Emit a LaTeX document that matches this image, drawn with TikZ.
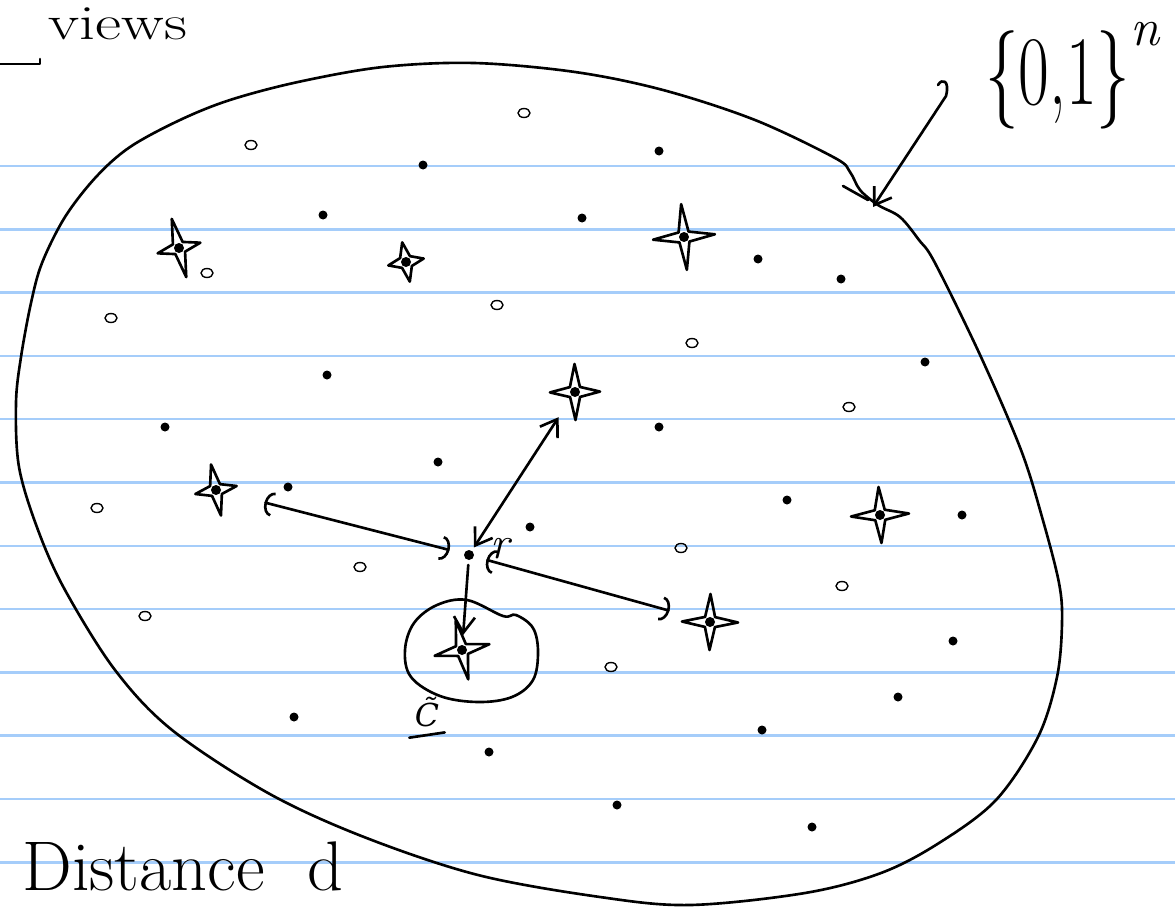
\documentclass[tikz,border=0pt]{standalone}
\usepackage{fontspec}
\usepackage{tikz}
\usetikzlibrary{arrows.meta}
\newfontfamily\markfont{DejaVu Serif}
\definecolor{paperblue}{RGB}{165,205,250}

\begin{document}
\begin{tikzpicture}[x=0.02cm,y=-0.02cm,line cap=round,line join=round,
    ruled/.style={paperblue,line width=1.4pt},
    pen/.style={line width=1.5pt},
    barb/.style={-{Straight Barb[length=9pt,width=12pt]}},
    bibarb/.style={{Straight Barb[length=9pt,width=12pt]}-{Straight Barb[length=9pt,width=12pt]}},
    hooks/.style={{Arc Barb[length=5pt,width=14pt]}-{Arc Barb[length=5pt,width=14pt]}},
    scribble/.style={inner sep=0pt}]
  \useasboundingbox (0,0) rectangle (1175,909);
  \clip (0,0) rectangle (1175,909);
  % ruled paper
  \foreach \y in {166,229.3,...,870}
    \draw[ruled] (0,\y) -- (1175,\y);

  % the whole space
  \draw[pen] plot[smooth cycle,tension=0.55] coordinates {
    (474,63) (383,67) (298,82) (230,100) (180,120) (130,147) (96,177) (65,217)
    (42,263) (31,303) (21,357) (16,403) (19,467) (38,530) (65,590) (115,670)
    (172,730) (268,793) (364,837) (478,875) (600,897) (690,905) (805,893)
    (881,873) (939,843) (996,800) (1038,737) (1057,677) (1062,623) (1059,583)
    (1042,517) (1021,450) (981,357) (935,263) (919,240) (900,217) (878,205)
    (860,190) (850,172) (835,158) (755,120) (663,90) (575,72)};
  \draw[pen] (843,186) -- (868,200);

  % words of the space
  \foreach \x/\y in {423/165,659/151,323/215,582/218,758/259,841/279,327/375,
      925/362,165/427,659/427,438/462,288/487,530/527,294/717,489/752,787/500,
      962/515,953/641,898/697,762/730,617/805,812/827}
    \fill (\x,\y) circle (4.5);
  \foreach \x/\y in {524/113,251/145,207/273,497/305,111/318,692/343,849/407,
      97/508,360/567,145/616,681/548,842/586,611/667}
    \draw[thick] (\x,\y) ellipse (6 and 4.5);

  % codewords
  \foreach \n/\x/\y/\h/\w/\r in {1/179/248/30/22/14,2/406/262/20/18/11,
      3/684/237/33/31/5,4/575/392/28/25/1,5/216/490/26/21/11,
      6/880/515/28/29/3,7/710/622/28/28/-1,8/462/650/30/28/12}{
    \coordinate (s\n) at (\x,\y);
    \draw[pen,shift={(\x,\y)},rotate=\r] (0,-\h) -- (5,-5) -- (\w,0) -- (5,5)
      -- (0,\h) -- (-5,5) -- (-\w,0) -- (-5,-5) -- cycle;
    \fill (s\n) circle (5);
  }

  % received word and its distances
  \coordinate (x) at (469,555);
  \fill (x) circle (5);
  \node[scribble,font=\fontsize{26}{26}\selectfont\itshape] (rlab) at (500,549) {r};
  \draw[pen,bibarb,shorten <=0.18cm,shorten >=0.6cm] (x) -- (s4);
  \draw[pen,hooks,shorten <=0.4cm,shorten >=1cm] (x) -- (s5);
  \draw[pen,hooks,shorten <=0.36cm,shorten >=0.84cm] (x) -- (s7);
  \draw[pen,barb,shorten <=0.2cm,shorten >=0.3cm] (x) -- (s8);

  % decoded ball
  \draw[pen] plot[smooth cycle,tension=0.6] coordinates {
    (467,600) (503,616) (516,615) (533,628) (538,652) (533,680) (512,697)
    (478,702) (440,696) (411,677) (405,650) (414,623) (437,605)};
  \node[scribble,font=\fontsize{18}{18}\selectfont\markfont\itshape] (ctil) at (427,712)
    {C^^^^0303};
  \draw[pen] ([xshift=-3pt,yshift=-6pt]ctil.south west) -- ([xshift=3pt,yshift=-3pt]ctil.south east);

  % labels
  \node[scribble,anchor=base west,font=\fontsize{28}{28}\selectfont] (views) at (48,40)
    {\scalebox{1.3}[1]{views}};
  \draw[pen] (0,64) -- (40,64) -- (40,59);
  \node[scribble,anchor=base west,font=\fontsize{56}{56}\selectfont] (cube) at (985,105)
    {\scalebox{0.68}[1]{\{0,1\}}\raisebox{0.6em}{\fontsize{30}{30}\selectfont\itshape n}};
  \coordinate (edge) at (873,207);
  \draw[pen,barb] (938,85) .. controls (942,78) and (950,80) .. (946,96) -- (edge);
  \node[scribble,anchor=base west,font=\fontsize{40}{40}\selectfont] (dist) at (22,890)
    {Distance\hspace{0.6em}d};
\end{tikzpicture}
\end{document}
